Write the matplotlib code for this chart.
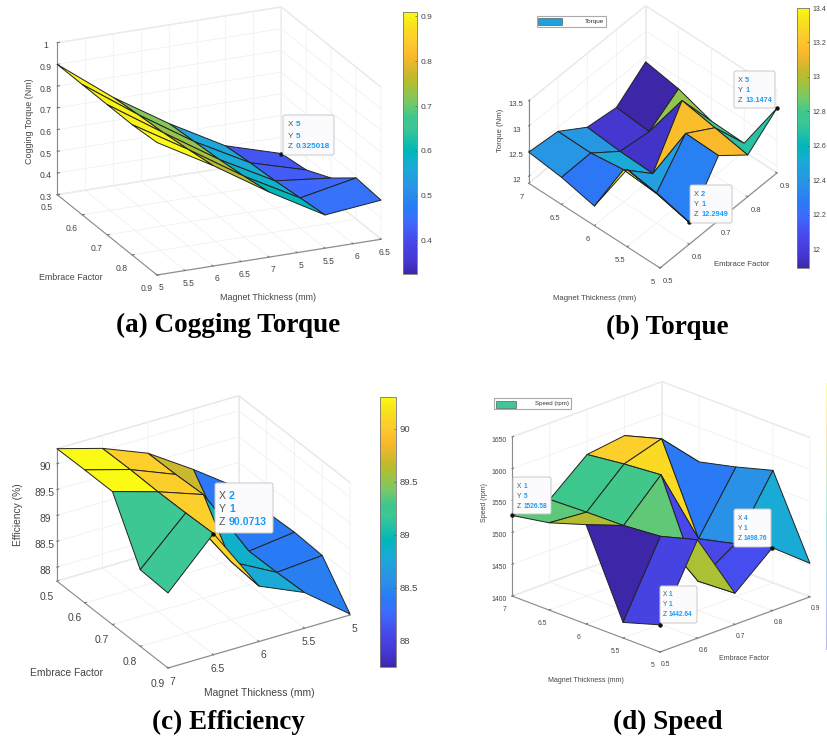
import numpy as np
import matplotlib
matplotlib.use("Agg")
import matplotlib.pyplot as plt
from matplotlib.colors import LinearSegmentedColormap, Normalize
from matplotlib.cm import ScalarMappable
from matplotlib.patches import FancyBboxPatch, Rectangle
from matplotlib.transforms import Affine2D
from mpl_toolkits.mplot3d import proj3d

# surface values, rows are X = 1..5, columns are Y = 1..5
cogging = [[0.91, 0.90, 0.90, 0.90, 0.90],
           [0.763, 0.745, 0.73, 0.72, 0.707],
           [0.60, 0.58, 0.565, 0.555, 0.545],
           [0.453, 0.439, 0.425, 0.416, 0.402],
           [0.48, 0.49, 0.397, 0.342, 0.325018]]
torque = [[13.3, 13.4, 12.25, 12.4, 12.48],
          [12.2949, 12.45, 12.5, 12.41, 12.42],
          [13.15, 13.17, 11.95, 11.97, 12.03],
          [12.69, 12.81, 12.93, 11.89, 11.95],
          [13.1474, 12.03, 12.05, 12.27, 12.385]]
efficiency = [[89.18, 89.21, 90.3, 90.3, 90.29],
              [90.0713, 90.05, 90.04, 90.05, 90.04],
              [88.8, 88.85, 89.73, 89.7, 89.69],
              [88.42, 88.39, 88.38, 88.37, 89.12],
              [87.75, 88.46, 88.49, 88.46, 88.5]]
speed = [[1442.64, 1424.5, 1556, 1537, 1526.58],
         [1554.6, 1538, 1533, 1532, 1530],
         [1449, 1446, 1591, 1586, 1579],
         [1498.76, 1483, 1469, 1604, 1587],
         [1452.6, 1576.6, 1560, 1546, 1530]]

grid_index = [1, 2, 3, 4, 5]
half_steps = [1, 1.5, 2, 2.5, 3, 3.5, 4, 4.5, 5]
thickness_cycled = ['5', '5.5', '6', '6.5', '7', '5', '5.5', '6', '6.5']
thickness_up = ['5', '5.5', '6', '6.5', '7']
thickness_down = ['7', '6.5', '6', '5.5', '5']
embrace_up = ['0.5', '0.6', '0.7', '0.8', '0.9']
embrace_down = ['0.9', '0.8', '0.7', '0.6', '0.5']

cogging_ticks = [0.3, 0.4, 0.5, 0.6, 0.7, 0.8, 0.9, 1]
torque_ticks = [12, 12.5, 13, 13.5]
efficiency_ticks = [88, 88.5, 89, 89.5, 90]
speed_ticks = [1400, 1450, 1500, 1550, 1600, 1650]

cogging_cbar = [0.4, 0.5, 0.6, 0.7, 0.8, 0.9]
torque_cbar = [12, 12.2, 12.4, 12.6, 12.8, 13, 13.2, 13.4]
efficiency_cbar = [88, 88.5, 89, 89.5, 90]

# parula as it looks in the picture
parula = LinearSegmentedColormap.from_list('parula', [
    (0.00, (0.24, 0.15, 0.66)), (0.05, (0.27, 0.22, 0.82)), (0.12, (0.28, 0.28, 0.92)),
    (0.20, (0.24, 0.42, 0.99)), (0.25, (0.16, 0.48, 0.96)), (0.33, (0.16, 0.58, 0.90)),
    (0.41, (0.10, 0.67, 0.84)), (0.47, (0.00, 0.72, 0.72)), (0.56, (0.24, 0.78, 0.59)),
    (0.60, (0.24, 0.78, 0.55)), (0.65, (0.45, 0.79, 0.42)), (0.73, (0.69, 0.75, 0.19)),
    (0.76, (0.78, 0.72, 0.18)), (0.83, (0.98, 0.72, 0.17)), (0.90, (0.99, 0.81, 0.17)),
    (0.96, (0.97, 0.90, 0.10)), (1.00, (0.98, 0.98, 0.08))])

W, H = 827, 742
plt.rcParams['font.family'] = ['Liberation Sans', 'DejaVu Sans']
plt.rcParams['grid.color'] = '#eeeeee'
plt.rcParams['grid.linewidth'] = 0.5
plt.rcParams['axes.edgecolor'] = '#8a8a8a'
plt.rcParams['axes.linewidth'] = 0.8

fig = plt.figure(figsize=(W / 100, H / 100), dpi=100, facecolor='white')
# image pixel coordinates, y going down
px = Affine2D().scale(1, -1).translate(0, H)


def to_display(ax, x, y, z):
    xs, ys, _ = proj3d.proj_transform(x, y, z, ax.get_proj())
    return ax.transData.transform((xs, ys))


def fit_box(ax, front, right, zmin):
    # scale and move the square axes so the base corners land on the reference pixels
    s0, l0, b0 = 400, 200, 200
    ax.set_position([l0 / W, b0 / H, s0 / W, s0 / H])
    ax.apply_aspect()
    f = to_display(ax, 1, 1, zmin)
    r = to_display(ax, 5, 1, zmin)
    target_f = np.array([front[0], H - front[1]])
    target_r = np.array([right[0], H - right[1]])
    k = np.linalg.norm(target_r - target_f) / np.linalg.norm(r - f)
    left = target_f[0] - k * (f[0] - l0)
    bottom = target_f[1] - k * (f[1] - b0)
    ax.set_position([left / W, bottom / H, s0 * k / W, s0 * k / H])


def surface(values, zlim, view, ratio, front, right, xticks, xlabels, ylabels, zticks,
            font, pads):
    Z = np.array(values, dtype=float)
    X, Y = np.meshgrid(grid_index, grid_index, indexing='ij')
    norm = Normalize(Z.min(), Z.max())
    ax = fig.add_subplot(projection='3d', proj_type='ortho', computed_zorder=False)
    ax.patch.set_visible(False)
    ax.view_init(elev=view[0], azim=view[1])
    ax.set_box_aspect((1, 1, ratio))
    ax.plot_surface(X, Y, Z, facecolors=parula(norm(Z)), shade=False, rstride=1, cstride=1,
                    edgecolor='#222222', linewidth=0.7, zorder=2)
    ax.set_xlim(1, 5, view_margin=0)
    ax.set_ylim(1, 5, view_margin=0)
    ax.set_zlim(zlim[0], zlim[1], view_margin=0)
    ax.set_xticks(xticks, xlabels)
    ax.set_yticks(grid_index, ylabels)
    ax.set_zticks(zticks, [f'{t:g}' for t in zticks])
    for name, axis, pad in zip('xyz', (ax.xaxis, ax.yaxis, ax.zaxis), pads):
        axis.set_pane_color((1, 1, 1, 1))
        axis.pane.set_edgecolor('#e6e6e6')
        axis._axinfo['tick']['inward_factor'] = 0.0
        axis._axinfo['tick']['outward_factor'] = 0.12
        ax.tick_params(axis=name, labelsize=font, labelcolor='#444444', pad=pad,
                       color='#777777', width=0.5)
    fit_box(ax, front, right, zlim[0])
    return ax


def colorbar(values, box, ticks, font):
    left, top, right, bottom = box
    Z = np.array(values, dtype=float)
    cax = fig.add_axes([left / W, 1 - bottom / H, (right - left) / W, (bottom - top) / H])
    sm = ScalarMappable(Normalize(Z.min(), Z.max()), parula)
    cb = fig.colorbar(sm, cax=cax)
    cb.set_ticks(ticks, labels=[f'{t:g}' for t in ticks])
    cb.ax.tick_params(labelsize=font, labelcolor='#444444', length=1.5, width=0.4,
                      direction='in', pad=2.5, color='#444444')
    cb.outline.set_edgecolor('#777777')
    cb.outline.set_linewidth(0.6)


def datatip(ax, point, box, label_x, value_x, rows, font):
    ax.plot([point[0]], [point[1]], [point[2]], 'o', color='#111111', ms=2.2, zorder=5)
    left, top, right, bottom = box
    fig.add_artist(FancyBboxPatch((left + 1, top + 1), right - left - 2, bottom - top - 2,
                                  boxstyle='round,pad=1,rounding_size=2', transform=px,
                                  fc='#fbfbfe', ec='#c8c8c8', lw=0.7, zorder=10))
    for name, value, y in zip('XYZ', point[3], rows):
        fig.text(label_x, y, name, transform=px, fontsize=font, color='#555555',
                 va='center', zorder=11)
        fig.text(value_x, y, value, transform=px, fontsize=font, color='#1a9bf5',
                 fontweight='bold', va='center', zorder=11)


def legend(box, swatch, color, text, font):
    left, top, right, bottom = box
    fig.add_artist(Rectangle((left, top), right - left, bottom - top, transform=px,
                             fc='white', ec='#aaaaaa', lw=0.8, zorder=10))
    fig.add_artist(Rectangle((swatch[0], swatch[1]), swatch[2] - swatch[0], swatch[3] - swatch[1],
                             transform=px, fc=color, ec='#444444', lw=0.4, zorder=11))
    fig.text(right - 2, (top + bottom) / 2, text, transform=px, fontsize=font, ha='right',
             va='center', color='#333333', zorder=11)


def axis_labels(z_text, z_xy, emb_xy, mag_xy, font):
    kw = dict(transform=px, fontsize=font, color='#444444', ha='center', va='center')
    fig.text(z_xy[0], z_xy[1], z_text, rotation=90, **kw)
    fig.text(emb_xy[0], emb_xy[1], 'Embrace Factor', **kw)
    fig.text(mag_xy[0], mag_xy[1], 'Magnet Thickness (mm)', **kw)


def caption(text, x, y):
    fig.text(x, y, text, transform=px, family='Liberation Serif', fontweight='bold',
             fontsize=19.5, ha='center', va='center', color='black')


# (a) Cogging Torque
ax_a = surface(cogging, (0.3, 1), (21, -114), 0.664, (157, 275), (381, 239), half_steps,
               thickness_cycled, embrace_down, cogging_ticks, 6.2, (-3, -1.5, -3))
colorbar(cogging, (403, 12, 417, 274), cogging_cbar, 6)
datatip(ax_a, (5, 5, 0.325018, ('5', '5', '0.325018')), (283, 115, 334, 155), 288, 295.5,
        (125, 136, 146), 5.9)
axis_labels('Cogging Torque (Nm)', (29, 121), (71, 278), (268, 297), 6.4)
caption('(a) Cogging Torque', 228, 325)

# (b) Torque
ax_b = surface(torque, (11.86, 13.5), (46.4, -138.3), 0.68, (660, 268), (777, 173), grid_index,
               embrace_up, thickness_up, torque_ticks, 5.5, (-2, -2, -3))
colorbar(torque, (797, 8, 809, 268), torque_cbar, 5)
datatip(ax_b, (5, 1, 13.1474, ('5', '1', '13.1474')), (734, 71, 775, 108), 737.5, 745,
        (80, 90, 100), 5.3)
datatip(ax_b, (2, 1, 12.2949, ('2', '1', '12.2949')), (690, 185, 732, 223), 693.5, 701,
        (194, 204, 215), 5.3)
axis_labels('Torque (Nm)', (501, 130), (742, 265), (595, 298), 5.6)
legend((537, 16, 606, 27), (538, 18, 562, 25), parula(0.38), 'Torque', 4.6)
caption('(b) Torque', 667.5, 327)

# (c) Efficiency
ax_c = surface(efficiency, (87.73, 90.29), (28.5, -121.4), 0.707, (168, 668), (350, 615),
               grid_index, thickness_down, embrace_down, efficiency_ticks, 7.4, (-3, -1, -3))
colorbar(efficiency, (380, 397, 396, 667), efficiency_cbar, 6.8)
datatip(ax_c, (2, 1, 90.0713, ('2', '1', '90.0713')), (215, 483, 273, 533), 219, 229,
        (496, 509, 522), 7.6)
axis_labels('Efficiency (%)', (18, 515), (66, 673), (259, 693), 7.4)
caption('(c) Efficiency', 228, 722)

# (d) Speed
ax_d = surface(speed, (1400, 1650), (21.9, -134.6), 0.815, (660, 652), (810, 597), grid_index,
               embrace_up, thickness_up, speed_ticks, 4.9, (-3, -2, -2.5))
datatip(ax_d, (1, 5, 1526.58, ('1', '5', '1526.58')), (513, 477, 551, 514), 516.5, 524,
        (486, 496, 506), 4.7)
datatip(ax_d, (1, 1, 1442.64, ('1', '1', '1442.64')), (660, 586, 697, 623), 663, 669,
        (595, 605, 615), 4.7)
datatip(ax_d, (4, 1, 1498.76, ('4', '1', '1498.76')), (734, 509, 771, 547), 737.5, 744,
        (518, 528, 539), 4.7)
axis_labels('Speed (rpm)', (485, 503), (744, 658), (586, 681), 5.0)
legend((494, 398, 571, 409), (496, 401, 516, 408), parula(0.56), 'Speed (rpm)', 4.4)
caption('(d) Speed', 667.5, 722)

# colorbar of (d) is cut off by the right edge, only a pale strip is left
strip = fig.add_axes([826 / W, 1 - 650 / H, 1 / W, 267 / H])
strip.imshow(np.linspace(1, 0, 64).reshape(-1, 1), cmap=parula, aspect='auto', alpha=0.35)
strip.set_axis_off()

fig.savefig('out.png', dpi=100)
